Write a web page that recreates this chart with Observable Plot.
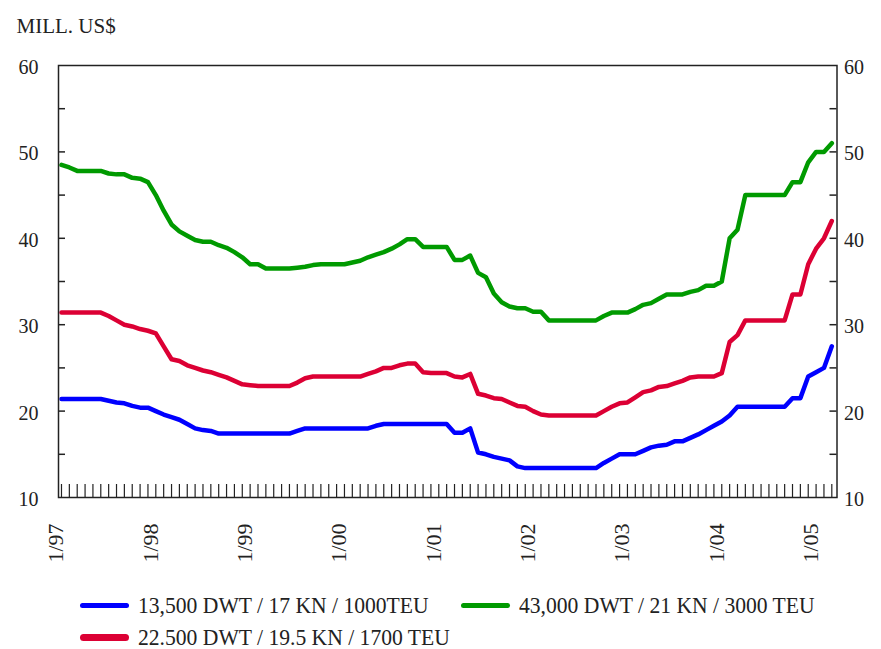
<!DOCTYPE html>
<html>
<head>
<meta charset="utf-8">
<script src="https://cdn.jsdelivr.net/npm/d3@7"></script>
<script src="https://cdn.jsdelivr.net/npm/@observablehq/plot@0.6"></script>
<style>
  html, body { margin: 0; padding: 0; background: #fff; }
  #wrap { position: relative; width: 881px; height: 649px; font-family: "Liberation Serif", "Times New Roman", serif; color: #222; }
  #chart { position: absolute; left: 0; top: 0; }
  .item { position: absolute; height: 32px; display: flex; align-items: center; white-space: nowrap; }
  .sw { display: inline-block; width: 49px; border-radius: 4px; }
  .lab { display: inline-block; font-size: 24px; margin-left: 9px; transform: scaleX(0.9); transform-origin: left center; }
</style>
</head>
<body>
<div id="wrap">
  <div id="chart"></div>
  <div id="legend"></div>
</div>
<script>
// Monthly prices, Jan 1997 (index 0) .. Mar 2005 (index 98), mill. US$
const blue = [
  21.4,21.4,21.4,21.4,21.4,21.4,21.2,21.0,20.9,20.6,
  20.4,20.4,20.0,19.6,19.3,19.0,18.5,18.0,17.8,17.7,
  17.4,17.4,17.4,17.4,17.4,17.4,17.4,17.4,17.4,17.4,
  17.7,18.0,18.0,18.0,18.0,18.0,18.0,18.0,18.0,18.0,
  18.3,18.5,18.5,18.5,18.5,18.5,18.5,18.5,18.5,18.5,
  17.5,17.5,18.0,15.2,15.0,14.7,14.5,14.3,13.6,13.4,
  13.4,13.4,13.4,13.4,13.4,13.4,13.4,13.4,13.4,14.0,
  14.5,15.0,15.0,15.0,15.4,15.8,16.0,16.1,16.5,16.5,
  16.9,17.3,17.8,18.3,18.8,19.5,20.5,20.5,20.5,20.5,
  20.5,20.5,20.5,21.5,21.5,24.0,24.5,25.0,27.5
];
const red = [
  31.4,31.4,31.4,31.4,31.4,31.4,31.0,30.5,30.0,29.8,
  29.5,29.3,29.0,27.5,26.0,25.8,25.3,25.0,24.7,24.5,
  24.2,23.9,23.5,23.1,23.0,22.9,22.9,22.9,22.9,22.9,
  23.3,23.8,24.0,24.0,24.0,24.0,24.0,24.0,24.0,24.3,
  24.6,25.0,25.0,25.3,25.5,25.5,24.5,24.4,24.4,24.4,
  24.0,23.9,24.3,22.0,21.8,21.5,21.4,21.0,20.6,20.5,
  20.0,19.6,19.5,19.5,19.5,19.5,19.5,19.5,19.5,20.0,
  20.5,20.9,21.0,21.6,22.2,22.4,22.8,22.9,23.2,23.5,
  23.9,24.0,24.0,24.0,24.4,28.0,28.8,30.5,30.5,30.5,
  30.5,30.5,30.5,33.5,33.5,37.0,38.8,40.0,42.0
];
const green = [
  48.5,48.2,47.8,47.8,47.8,47.8,47.5,47.4,47.4,47.0,
  46.9,46.5,45.0,43.2,41.6,40.8,40.3,39.8,39.6,39.6,
  39.2,38.9,38.4,37.8,37.0,37.0,36.5,36.5,36.5,36.5,
  36.6,36.7,36.9,37.0,37.0,37.0,37.0,37.2,37.4,37.8,
  38.1,38.4,38.8,39.3,39.9,39.9,39.0,39.0,39.0,39.0,
  37.5,37.5,38.0,36.0,35.5,33.6,32.6,32.1,31.9,31.9,
  31.5,31.5,30.5,30.5,30.5,30.5,30.5,30.5,30.5,31.0,
  31.4,31.4,31.4,31.8,32.3,32.5,33.0,33.5,33.5,33.5,
  33.8,34.0,34.5,34.5,35.0,40.0,41.0,45.0,45.0,45.0,
  45.0,45.0,45.0,46.5,46.5,48.8,50.0,50.0,51.0
];
const seriesNames = [
  "13,500 DWT / 17 KN / 1000TEU",
  "22.500 DWT / 19.5 KN / 1700 TEU",
  "43,000 DWT / 21 KN / 3000 TEU"
];
const seriesColors = ["#0000ff", "#dc0034", "#009a00"];
const xLabels = ["1/97","1/98","1/99","1/00","1/01","1/02","1/03","1/04","1/05"];
const xLabelIdx = [0,12,24,36,48,60,72,84,96];
const yLabels = [10,20,30,40,50,60];
const yMinor = [15,20,25,30,35,40,45,50,55];
const yTitle = "MILL. US$";

const months = d3.range(blue.length);
const W = 881, H = 580, mL = 58, mR = 44.5, mT = 65, mB = 83;
const fw = W - mL - mR, fh = H - mT - mB;
const ink = "#222";

const chart = Plot.plot({
  width: W, height: H,
  marginLeft: mL, marginRight: mR, marginTop: mT, marginBottom: mB,
  x: {domain: [-0.38, 98.66], axis: null},
  y: {domain: [10, 60], label: null},
  style: {fontFamily: "'Liberation Serif', 'Times New Roman', serif", background: "white", color: ink, overflow: "visible"},
  marks: [
    Plot.ruleY(yMinor, {y: d => d, insetRight: fw - 7, stroke: ink, strokeWidth: 1.5}),
    Plot.ruleY(yMinor, {y: d => d, insetLeft: fw - 7, stroke: ink, strokeWidth: 1.5}),
    Plot.ruleX(months, {x: d => d, insetTop: fh - 13, stroke: ink, strokeWidth: 1.2}),
    Plot.line(blue, {x: (d, i) => i, y: d => d, stroke: seriesColors[0], strokeWidth: 4.5}),
    Plot.line(red, {x: (d, i) => i, y: d => d, stroke: seriesColors[1], strokeWidth: 4.5}),
    Plot.line(green, {x: (d, i) => i, y: d => d, stroke: seriesColors[2], strokeWidth: 4.5}),
    Plot.frame({stroke: ink, strokeWidth: 1.5}),
    Plot.axisY({anchor: "left", ticks: yLabels, tickSize: 0, tickPadding: 20, fontSize: 20, tickFormat: d => String(d), dy: 2}),
    Plot.axisY({anchor: "right", ticks: yLabels, tickSize: 0, tickPadding: 7, fontSize: 20, tickFormat: d => String(d), dy: 2}),
    Plot.text(xLabels, {x: (d, i) => xLabelIdx[i], text: d => d, frameAnchor: "bottom", rotate: -90, textAnchor: "start", dy: 65, dx: 2, fontSize: 22, fill: ink}),
    Plot.text([yTitle], {text: d => d, frameAnchor: "top-left", textAnchor: "start", lineAnchor: "bottom", dx: 16 - mL, dy: 32 - mT, fontSize: 21, fill: ink})
  ]
});
document.getElementById("chart").appendChild(chart);

const legendPos = [[80, 589], [80, 621], [461, 589]];
const legend = document.getElementById("legend");
seriesNames.forEach((name, i) => {
  const item = document.createElement("div");
  item.className = "item";
  item.style.left = legendPos[i][0] + "px";
  item.style.top = legendPos[i][1] + "px";
  const sw = document.createElement("span");
  sw.className = "sw";
  sw.style.background = seriesColors[i];
  sw.style.height = (i === 1 ? 7 : 5) + "px";
  const lab = document.createElement("span");
  lab.className = "lab";
  lab.textContent = name;
  item.appendChild(sw);
  item.appendChild(lab);
  legend.appendChild(item);
});
</script>
</body>
</html>
